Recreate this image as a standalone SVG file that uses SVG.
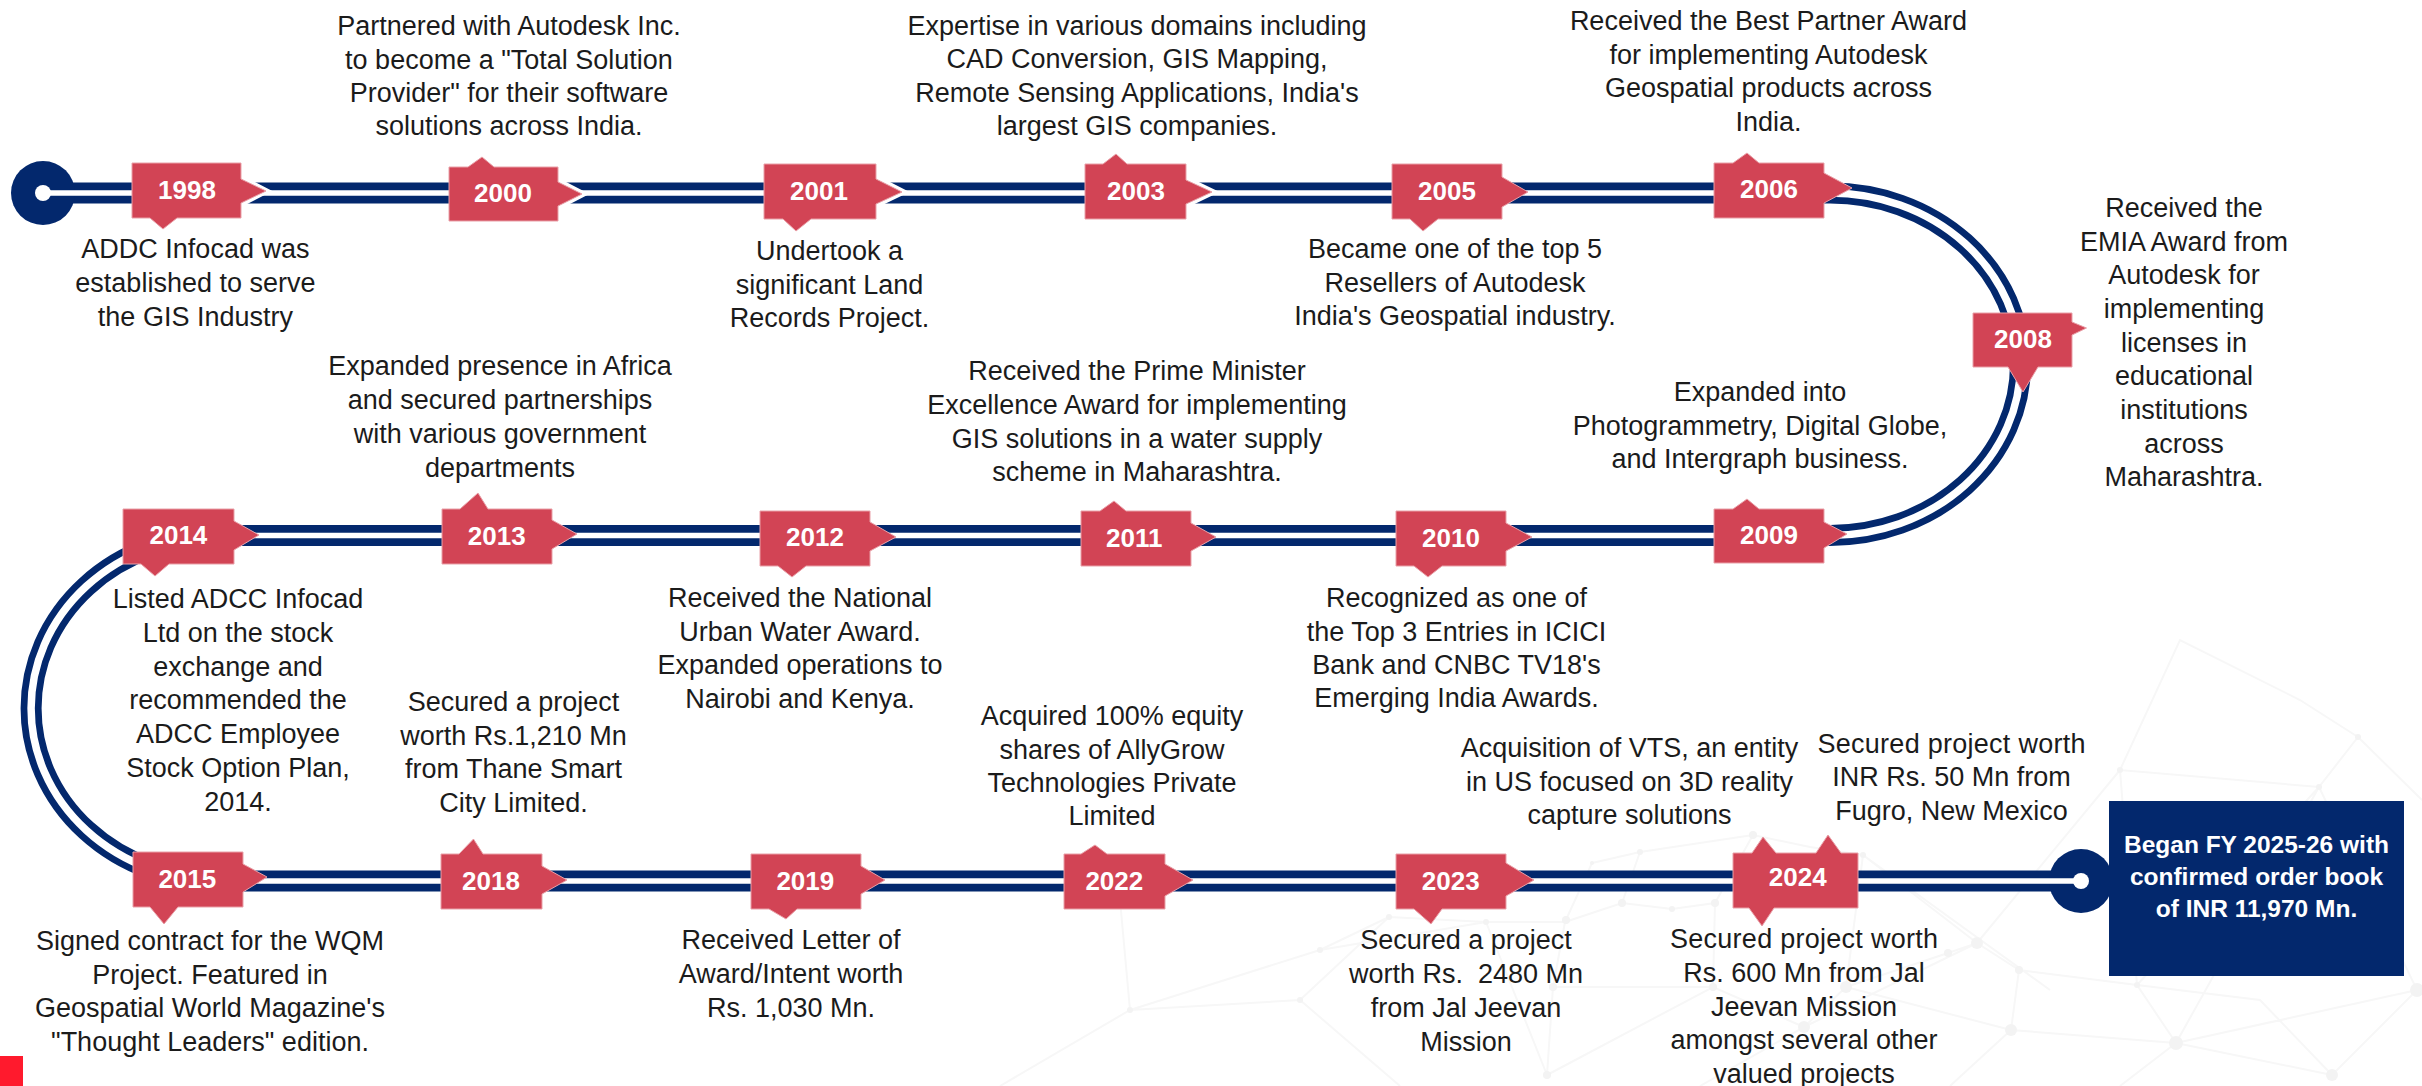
<svg xmlns="http://www.w3.org/2000/svg" width="2422" height="1086" viewBox="0 0 2422 1086">
<style>
text{font-family:"Liberation Sans",Arial,sans-serif}
.t{font-size:27px;fill:#1b1b1b;text-anchor:middle}
.y{font-size:26px;font-weight:700;fill:#fff;text-anchor:middle}
.b{font-size:24.5px;font-weight:700;fill:#fff;text-anchor:middle}
.n{fill:#D24455;stroke:#E9A0A8;stroke-width:1}
.c{fill:none;stroke:#fff;stroke-width:4}
.r{fill:none;stroke:#03286D;stroke-width:21}
.w{fill:none;stroke:#fff;stroke-width:5.5}
.wa{fill:none;stroke:#fff;stroke-width:7.5}
.g{fill:#03286D}
.bl{fill:none;stroke:#f7f7f7;stroke-width:2}
.bd{fill:#f3f3f3}
</style>
<rect width="2422" height="1086" fill="#fff"/>
<g id="background">
<path class="bl" d="M1389 917L1486 922L1565 922L1622 903L1672 909L1715 903L1753 835M1592 863L1640 852L1753 835L1810 847L1863 855M1565 922L1592 863M1622 903L1640 852M1486 922L1547 1075L1553 987L1565 922M1553 987L1713 987L1804 1027L1846 987L1948 953L1977 943L2019 970L2011 1030L2176 1043L2332 1075M1713 987L1715 903M1846 987L1863 855L1977 943M1804 1027L1977 943M2011 1030L1846 987M2176 1043L2137 985L2019 970M2137 985L2120 770L2319 787L2358 737M2120 770L1977 943M2319 787L2417 990L2332 1075M2176 1043L2417 990M2137 985L2319 787M2176 1043L2319 787M1547 1075L1713 987L1804 1027L1700 1086M2011 1030L1950 1086M2176 1043L2120 1086M2332 1075L2260 1000L2137 985M1389 917L1300 1000L1130 1010L1000 1086M1130 1010L1320 950L1389 917M1486 922L1320 950M1300 1000L1400 1086M1120 900L1130 1010M2358 737L2422 800M2120 770L2180 640L2300 700L2358 737M1863 855L2050 990"/>
<g class="bd">
<circle cx="2176" cy="1043" r="7"/><circle cx="2011" cy="1030" r="6"/><circle cx="2332" cy="1075" r="6"/><circle cx="1804" cy="1027" r="6"/><circle cx="1977" cy="943" r="6"/><circle cx="2120" cy="770" r="3"/><circle cx="2417" cy="990" r="7"/><circle cx="1846" cy="987" r="6"/><circle cx="1713" cy="987" r="4"/><circle cx="1547" cy="1075" r="4"/><circle cx="1566" cy="920" r="4"/><circle cx="1553" cy="987" r="4"/><circle cx="2137" cy="985" r="3"/><circle cx="2019" cy="970" r="4"/><circle cx="1948" cy="953" r="4"/><circle cx="2319" cy="787" r="3"/><circle cx="2358" cy="737" r="3"/><circle cx="1622" cy="903" r="4"/><circle cx="1672" cy="909" r="3"/><circle cx="1715" cy="903" r="4"/><circle cx="1486" cy="922" r="3"/><circle cx="1389" cy="917" r="3"/><circle cx="1592" cy="863" r="2"/><circle cx="1640" cy="852" r="3"/><circle cx="1753" cy="835" r="4"/><circle cx="1863" cy="855" r="3"/><circle cx="1130" cy="1010" r="3"/><circle cx="1300" cy="1000" r="3"/><circle cx="1320" cy="950" r="3"/>
</g>
</g>
<rect id="corner-mark" x="0" y="1056" width="23" height="30" fill="#FF1A2D"/>
<g id="connectors">
<path class="r" d="M43 193H1830A190.5 171.25 0 0 1 1830 535.5H220A189 172.75 0 0 0 220 881H2081"/>
<circle class="g" cx="43" cy="193" r="32"/>
<circle class="g" cx="2081" cy="881" r="32"/>
<path class="w" d="M43 193H1830M1830 535.5H220M220 881H2081"/>
<path class="wa" d="M1830 193A190.5 171.25 0 0 1 1830 535.5M220 535.5A189 172.75 0 0 0 220 881"/>
<circle cx="43" cy="193" r="8" fill="#fff"/>
<circle cx="2081" cy="881" r="8" fill="#fff"/>
</g>
<g id="n1998"><polyline class="c" points="241,177 268,191 241,205"/><polygon class="n" points="132,163 241,163 241,179 266,191 241,203 241,218 177,218 163,229 150,218 132,218"/><text class="y" x="187" y="199.3">1998</text></g>
<g id="n2000"><polyline class="c" points="558,180 585,194 558,208"/><polygon class="n" points="449,167 468,167 482,157 494,167 558,167 558,182 582,194 558,206 558,221 449,221"/><text class="y" x="503" y="202">2000</text></g>
<g id="n2001"><polyline class="c" points="876,177 905,192 876,206"/><polygon class="n" points="764,164 876,164 876,179 902,192 876,204 876,219 811,219 796,231 783,219 764,219"/><text class="y" x="819" y="200">2001</text></g>
<g id="n2003"><polyline class="c" points="1186,178 1215,192 1186,206"/><polygon class="n" points="1085,164 1103,164 1116,154 1127,164 1186,164 1186,180 1212,192 1186,204 1186,219 1085,219"/><text class="y" x="1136" y="200">2003</text></g>
<g id="n2005"><polygon class="n" points="1392,164 1502,164 1502,177 1528,192 1502,207 1502,219 1438,219 1423,231 1410,219 1392,219"/><text class="y" x="1447" y="200">2005</text></g>
<g id="n2006"><polygon class="n" points="1714,163 1733,163 1747,153 1759,163 1824,163 1824,173 1852,188 1824,203 1824,218 1714,218"/><text class="y" x="1769" y="198.3">2006</text></g>
<g id="n2008"><polygon class="n" points="1973,313 2072,313 2072,322 2086.5,328 2072,335 2072,367 2038,367 2023,392 2008,367 1973,367"/><text class="y" x="2023" y="348.3">2008</text></g>
<g id="n2009"><polygon class="n" points="1714,509 1733,509 1747,499 1759,509 1824,509 1824,522 1847,534 1824,548 1824,563 1714,563"/><text class="y" x="1769" y="544.3">2009</text></g>
<g id="n2010"><polygon class="n" points="1396,511 1506,511 1506,523 1532,537 1506,551 1506,566 1442,566 1428,577 1414,566 1396,566"/><text class="y" x="1451" y="547">2010</text></g>
<g id="n2011"><polygon class="n" points="1081,511 1100,511 1114,501 1126,511 1191,511 1191,523 1216,537 1191,551 1191,566 1081,566"/><text class="y" x="1134.3" y="547.3">2011</text></g>
<g id="n2012"><polygon class="n" points="760,511 870,511 870,522 896,537 870,551 870,566 806,566 792,577 778,566 760,566"/><text class="y" x="815" y="546">2012</text></g>
<g id="n2013"><polygon class="n" points="442,509 460,509 478,493 488,509 552,509 552,520 577,534 552,549 552,564 442,564"/><text class="y" x="496.7" y="545">2013</text></g>
<g id="n2014"><polygon class="n" points="123,509 234,509 234,521 259,535 234,550 234,564 169,564 155,576 141,564 123,564"/><text class="y" x="178.4" y="543.8">2014</text></g>
<g id="n2015"><polygon class="n" points="133,852 243,852 243,864 267,877 243,892 243,907 178,907 164,924 150,907 133,907"/><text class="y" x="187.3" y="887.8">2015</text></g>
<g id="n2018"><polygon class="n" points="441,854 459,854 473.5,839 483,854 542,854 542,866 567,880 542,894 542,909 441,909"/><text class="y" x="491" y="889.7">2018</text></g>
<g id="n2019"><polygon class="n" points="751,854 861,854 861,866 885,880 861,894 861,909 797,909 786,919 769,909 751,909"/><text class="y" x="805.3" y="890">2019</text></g>
<g id="n2022"><polygon class="n" points="1064,854 1081,854 1095,845 1107,854 1165,854 1165,864 1193,880 1165,896 1165,909 1064,909"/><text class="y" x="1114.3" y="890">2022</text></g>
<g id="n2023"><polygon class="n" points="1396,854 1506,854 1506,863 1534,880 1506,896 1506,909 1442,909 1431,924 1414,909 1396,909"/><text class="y" x="1450.7" y="890">2023</text></g>
<g id="n2024"><polygon class="n" points="1733,853 1752,853 1763,837 1776,853 1816,853 1828,835 1841,853 1858,853 1858,908 1774,908 1762,926 1749,908 1733,908"/><text class="y" x="1797.7" y="886">2024</text></g>
<g id="final"><rect x="2109" y="801" width="295" height="175" class="g"/><text class="b" x="2256.5" y="853">Began FY 2025-26 with</text><text class="b" x="2256.5" y="885">confirmed order book</text><text class="b" x="2256.5" y="917">of INR 11,970 Mn.</text></g>
<g id="notes">
<text class="t" x="195.4" y="258.3">ADDC Infocad was</text><text class="t" x="195.4" y="292">established to serve</text><text class="t" x="195.4" y="325.5">the GIS Industry</text>
<text class="t" x="509" y="35">Partnered with Autodesk Inc.</text><text class="t" x="509" y="68.5">to become a "Total Solution</text><text class="t" x="509" y="102">Provider" for their software</text><text class="t" x="509" y="135">solutions across India.</text>
<text class="t" x="829.5" y="260">Undertook a</text><text class="t" x="829.5" y="294">significant Land</text><text class="t" x="829.5" y="327">Records Project.</text>
<text class="t" x="1137" y="34.5">Expertise in various domains including</text><text class="t" x="1137" y="68">CAD Conversion, GIS Mapping,</text><text class="t" x="1137" y="101.5">Remote Sensing Applications, India's</text><text class="t" x="1137" y="135">largest GIS companies.</text>
<text class="t" x="1455" y="258">Became one of the top 5</text><text class="t" x="1455" y="292">Resellers of Autodesk</text><text class="t" x="1455" y="325">India's Geospatial industry.</text>
<text class="t" x="1768.5" y="30">Received the Best Partner Award</text><text class="t" x="1768.5" y="63.5">for implementing Autodesk</text><text class="t" x="1768.5" y="97">Geospatial products across</text><text class="t" x="1768.5" y="130.7">India.</text>
<text class="t" x="2184" y="217">Received the</text><text class="t" x="2184" y="250.5">EMIA Award from</text><text class="t" x="2184" y="284">Autodesk for</text><text class="t" x="2184" y="317.5">implementing</text><text class="t" x="2184" y="351.5">licenses in</text><text class="t" x="2184" y="385">educational</text><text class="t" x="2184" y="418.5">institutions</text><text class="t" x="2184" y="452.5">across</text><text class="t" x="2184" y="486">Maharashtra.</text>
<text class="t" x="1760" y="401">Expanded into</text><text class="t" x="1760" y="434.5">Photogrammetry, Digital Globe,</text><text class="t" x="1760" y="467.7">and Intergraph business.</text>
<text class="t" x="1456.5" y="606.8">Recognized as one of</text><text class="t" x="1456.5" y="640.7">the Top 3 Entries in ICICI</text><text class="t" x="1456.5" y="674">Bank and CNBC TV18's</text><text class="t" x="1456.5" y="707">Emerging India Awards.</text>
<text class="t" x="1137" y="380">Received the Prime Minister</text><text class="t" x="1137" y="414">Excellence Award for implementing</text><text class="t" x="1137" y="448">GIS solutions in a water supply</text><text class="t" x="1137" y="481">scheme in Maharashtra.</text>
<text class="t" x="800" y="607">Received the National</text><text class="t" x="800" y="641">Urban Water Award.</text><text class="t" x="800" y="674">Expanded operations to</text><text class="t" x="800" y="708">Nairobi and Kenya.</text>
<text class="t" x="500" y="374.5">Expanded presence in Africa</text><text class="t" x="500" y="408.5">and secured partnerships</text><text class="t" x="500" y="442.5">with various government</text><text class="t" x="500" y="476.5">departments</text>
<text class="t" x="238" y="607.6">Listed ADCC Infocad</text><text class="t" x="238" y="642">Ltd on the stock</text><text class="t" x="238" y="676">exchange and</text><text class="t" x="238" y="709">recommended the</text><text class="t" x="238" y="743">ADCC Employee</text><text class="t" x="238" y="776.5">Stock Option Plan,</text><text class="t" x="238" y="810.5">2014.</text>
<text class="t" x="513.5" y="710.8">Secured a project</text><text class="t" x="513.5" y="744.8">worth Rs.1,210 Mn</text><text class="t" x="513.5" y="777.6">from Thane Smart</text><text class="t" x="513.5" y="811.6">City Limited.</text>
<text class="t" x="210" y="949.7">Signed contract for the WQM</text><text class="t" x="210" y="983.7">Project. Featured in</text><text class="t" x="210" y="1017">Geospatial World Magazine's</text><text class="t" x="210" y="1050.6">"Thought Leaders" edition.</text>
<text class="t" x="791" y="949">Received Letter of</text><text class="t" x="791" y="983">Award/Intent worth</text><text class="t" x="791" y="1017">Rs. 1,030 Mn.</text>
<text class="t" x="1112" y="725">Acquired 100% equity</text><text class="t" x="1112" y="759">shares of AllyGrow</text><text class="t" x="1112" y="792">Technologies Private</text><text class="t" x="1112" y="825">Limited</text>
<text class="t" x="1466" y="949.3">Secured a project</text><text class="t" x="1466" y="983" xml:space="preserve">worth Rs.  2480 Mn</text><text class="t" x="1466" y="1016.7">from Jal Jeevan</text><text class="t" x="1466" y="1050.7">Mission</text>
<text class="t" x="1629.5" y="757">Acquisition of VTS, an entity</text><text class="t" x="1629.5" y="790.7">in US focused on 3D reality</text><text class="t" x="1629.5" y="824">capture solutions</text>
<text class="t" x="1951.5" y="752.7" textLength="268">Secured project worth</text><text class="t" x="1951.5" y="786">INR Rs. 50 Mn from</text><text class="t" x="1951.5" y="820">Fugro, New Mexico</text>
<text class="t" x="1804" y="948.3" textLength="268">Secured project worth</text><text class="t" x="1804" y="981.7">Rs. 600 Mn from Jal</text><text class="t" x="1804" y="1015.7">Jeevan Mission</text><text class="t" x="1804" y="1049">amongst several other</text><text class="t" x="1804" y="1082.7">valued projects</text>
</g>
</svg>
